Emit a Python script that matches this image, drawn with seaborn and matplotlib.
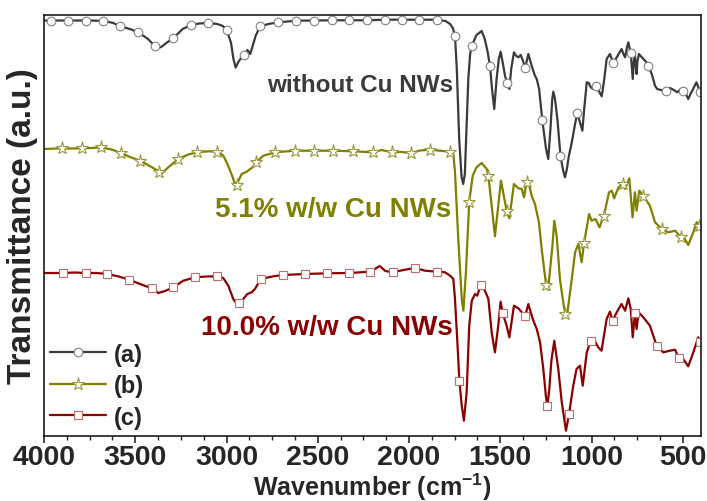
import numpy as np
import matplotlib
matplotlib.use("Agg")
import matplotlib.pyplot as plt
from matplotlib.lines import Line2D
from matplotlib.ticker import MultipleLocator
import seaborn as sns

# ---- FTIR spectra (wavenumber in cm-1, transmittance in a.u., stacked) ----
wn_a = [4000, 3963, 3867, 3770, 3675, 3620, 3584, 3530, 3483, 3430, 3392, 3360, 3330, 3291,
        3240, 3195, 3150, 3100, 3050, 3020, 2999, 2975, 2962, 2950, 2935, 2920, 2902, 2885,
        2870, 2855, 2840, 2816, 2770, 2716, 2619, 2521, 2424, 2327, 2232, 2132, 2040, 1944,
        1848, 1800, 1775, 1760, 1748, 1738, 1725, 1712, 1703, 1694, 1685, 1675, 1665, 1656,
        1630, 1602, 1585, 1570, 1556, 1545, 1533, 1520, 1508, 1498, 1485, 1474, 1462, 1450,
        1440, 1425, 1412, 1401, 1388, 1375, 1364, 1346, 1335, 1328, 1310, 1300, 1287, 1270,
        1249, 1237, 1225, 1215, 1209, 1200, 1187, 1170, 1155, 1145, 1135, 1125, 1108, 1090,
        1078, 1063, 1050, 1040, 1026, 1015, 1004, 990, 975, 960, 944, 930, 917, 899, 880,
        862, 845, 835, 825, 816, 805, 798, 790, 785, 778, 774, 768, 762, 757, 753, 748, 740,
        716, 700, 689, 670, 652, 640, 620, 592, 570, 552, 530, 510, 497, 480, 470, 455, 443,
        425, 415, 405, 400]
t_a = [415.5, 415.5, 415.5, 415.5, 415.2, 413, 409.7, 407, 403.7, 397, 389.7, 388.7, 393, 398,
       407, 411, 412.5, 413, 412, 410, 406, 393, 377, 368.5, 374, 378, 381, 386,
       382, 391, 400.3, 409.7, 412, 413.7, 415.3, 415.5, 415.7, 415.7, 415.7, 416.3, 416.3, 416.3,
       416.3, 415, 412, 408, 400.5, 367, 297, 259, 252, 262, 307, 357, 382, 390.3,
       401, 405, 397, 385, 369.7, 347, 327, 357, 377, 384.3, 372, 360.3, 353, 347,
       367, 383.7, 380, 378.7, 381, 375, 367.7, 382, 375, 370.3, 360.3, 357, 347, 316.3,
       287, 277, 307, 337, 344.3, 337, 317, 280.3, 265, 258.7, 267, 279, 293.7, 312,
       323, 313.7, 305.3, 327, 353.7, 353, 348.7, 347, 349.7, 345, 339.7, 357, 377, 382, 372.7,
       378.7, 384, 387, 382, 378.7, 389, 393.7, 387, 383, 367, 357, 375, 380.3, 369, 362, 375, 382,
       377, 374, 370.3, 362, 350.3, 347, 346, 345.3, 348, 346.3, 343.7, 347, 345.3, 341, 337, 343, 347,
       353.7, 349, 344.3, 345]
mk_a = [3963, 3867, 3770, 3675, 3584, 3483, 3392, 3291, 3195, 3100, 2999, 2902, 2816, 2716,
        2619, 2521, 2424, 2327, 2232, 2132, 2040, 1944, 1848, 1748, 1656, 1556, 1462, 1364,
        1270, 1170, 1078, 975, 880, 785, 689, 592, 497, 405]

wn_b = [4000, 3903, 3850, 3793, 3740, 3688, 3630, 3580, 3529, 3474, 3420, 3368, 3358, 3319,
        3264, 3210, 3160, 3100, 3050, 3018, 2995, 2966, 2958, 2944, 2917, 2889, 2870, 2855,
        2838, 2798, 2732, 2680, 2626, 2520, 2414, 2308, 2199, 2150, 2095, 2040, 1991, 1940,
        1885, 1830, 1777, 1757, 1748, 1730, 1711, 1702, 1688, 1670, 1651, 1630, 1602, 1574,
        1565, 1547, 1529, 1511, 1496, 1479, 1465, 1450, 1425, 1401, 1382, 1370, 1355, 1346,
        1328, 1310, 1288, 1273, 1249, 1238, 1214, 1204, 1191, 1173, 1155, 1144, 1133, 1108,
        1090, 1072, 1054, 1041, 1013, 1000, 978, 956, 932, 904, 889, 876, 852, 829, 816, 793,
        775, 762, 753, 738, 716, 680, 652, 615, 579, 542, 511, 488, 470, 442, 424, 409, 400]
t_b = [287, 287.7, 287.5, 287.7, 288, 288.7, 286.5, 283, 279, 275.3, 270, 264.3, 262, 268.7,
       277, 281.5, 283.7, 284.7, 284.3, 280.5, 272, 258.7, 254, 251.5, 262, 264.3, 267, 269,
       273.7, 280.3, 283.7, 284.5, 285.3, 285.3, 285.3, 284.7, 283.7, 286, 283.7, 284, 283, 285.5,
       286.3, 285.3, 284.3, 282, 264, 197, 137, 125.3, 164, 234.3, 260.3, 268.7, 273, 267,
       260.3, 230.3, 199.7, 230.3, 255.3, 238.7, 225.3, 217.7, 252, 247.7, 247, 238.7, 253.7, 254.3,
       240.3, 232, 213.7, 187, 151.3, 146.3, 190.3, 215.3, 200.3, 157, 133.7, 122, 122, 157,
       183.7, 192, 173.7, 192.7, 222, 215.3, 217, 208.7, 220.3, 243.7, 245.3, 237.7, 248.7, 252, 247, 257.7,
       218.7, 243.7, 225.3, 245.3, 240.3, 230.3, 213.7, 207, 203.7, 205.3, 198.7, 197, 191, 203.7, 213.7, 210.3, 212]
mk_b = [3903, 3793, 3688, 3580, 3474, 3368, 3264, 3160, 3050, 2944, 2838, 2732, 2626, 2520,
        2414, 2308, 2199, 2095, 1991, 1885, 1777, 1670, 1565, 1465, 1355, 1249, 1144, 1041,
        932, 829, 716, 615, 511, 409]

wn_c = [4000, 3898, 3830, 3770, 3710, 3653, 3590, 3533, 3474, 3410, 3374, 3337, 3291, 3237,
        3173, 3110, 3050, 3018, 2990, 2963, 2940, 2930, 2908, 2886, 2862, 2844, 2813, 2744,
        2689, 2570, 2448, 2327, 2212, 2160, 2130, 2089, 2031, 1967, 1912, 1848, 1803, 1775,
        1757, 1748, 1735, 1724, 1711, 1699, 1684, 1670, 1656, 1638, 1626, 1607, 1584, 1565,
        1547, 1529, 1511, 1498, 1487, 1465, 1450, 1425, 1401, 1382, 1364, 1346, 1322, 1300,
        1282, 1264, 1250, 1242, 1232, 1220, 1204, 1182, 1163, 1140, 1123, 1100, 1082, 1063,
        1048, 1026, 1004, 978, 963, 945, 917, 899, 884, 862, 835, 816, 798, 785, 774, 762,
        753, 742, 716, 680, 643, 607, 570, 542, 522, 497, 470, 442, 415, 405, 400]
t_c = [163, 163, 163.5, 163, 163, 162, 159.5, 156.3, 152, 147.7, 143, 145, 148.7, 155.3,
       158.7, 159.5, 159.7, 158, 150.3, 137, 131.5, 132.7, 137, 142, 143.7, 147, 157, 159.7,
       161, 162, 162.7, 163, 164.3, 170, 165, 163.7, 166, 168, 165.3, 164.3, 163.7, 160.3,
       157, 137, 94, 55.3, 30.3, 15.3, 44, 110.3, 135.3, 142, 140.3, 151.3, 145.3, 137,
       103.7, 83.7, 110.3, 134.3, 123, 110.3, 98.7, 130.3, 127.7, 123.7, 119.7, 132, 117, 107,
       93.7, 67, 40, 30.3, 45, 75, 95.3, 67, 34, 5.3, 22, 50.3, 67, 70.3,
       50.3, 83.7, 95.3, 93.7, 88.7, 85.3, 117, 124.3, 115.3, 123.7, 132, 125.3, 137.7, 127, 98.7, 122.7,
       107, 123.7, 118.7, 110.3, 90.3, 83.7, 85.3, 86.3, 77.7, 77, 69.7, 83.7, 98.7, 93.7, 97]
mk_c = [3898, 3770, 3653, 3533, 3410, 3291, 3173, 3050, 2930, 2813, 2689, 2570, 2448, 2327,
        2212, 2089, 1967, 1848, 1724, 1607, 1487, 1364, 1242, 1123, 1004, 884, 762, 643,
        522, 405]

legend_labels = ["(a)", "(b)", "(c)"]
curve_notes = ["without Cu NWs", "5.1% w/w Cu NWs", "10.0% w/w Cu NWs"]
x_ticks = [4000, 3500, 3000, 2500, 2000, 1500, 1000, 500]

# ---- styling ----
sns.set_style("white")
plt.rcParams["font.family"] = ["Liberation Sans", "DejaVu Sans"]
plt.rcParams["font.weight"] = "bold"
plt.rcParams["mathtext.fontset"] = "custom"
plt.rcParams["mathtext.rm"] = "Liberation Sans:bold"
plt.rcParams["mathtext.default"] = "rm"

line_colors = ["#3a3a3a", "#7f7f00", "#8b0000"]
edge_colors = ["#808080", "#99993a", "#c46a6a"]
markers = ["o", "*", "s"]
msizes = [6.2, 9.5, 5.6]

fig = plt.figure(figsize=(7.07, 5.02), dpi=100)
ax = fig.add_axes([44 / 707, 65 / 502, 657 / 707, 421.5 / 502])

series = [(wn_a, t_a, mk_a), (wn_b, t_b, mk_b), (wn_c, t_c, mk_c)]
handles = []
for (wn, t, mk), lc, ec, m, ms, lab in zip(series, line_colors, edge_colors, markers, msizes,
                                            legend_labels):
    wn = np.asarray(wn, float)
    idx = list(np.nonzero(np.isin(wn, mk))[0])
    sns.lineplot(x=wn, y=np.asarray(t, float), sort=False, ax=ax, color=lc, lw=1.6,
                 marker=m, markevery=idx, markersize=ms, markerfacecolor="white",
                 markeredgecolor=ec, markeredgewidth=0.8, estimator=None)
    handles.append(Line2D([], [], color=lc, lw=1.6, marker=m, markersize=ms,
                          markerfacecolor="white", markeredgecolor=ec,
                          markeredgewidth=0.8))

ax.set_xlim(4000, 400)
ax.set_ylim(0, 421.5)
ax.xaxis.set_major_locator(MultipleLocator(500))
ax.xaxis.set_minor_locator(MultipleLocator(125))
ax.set_xticks(x_ticks)
ax.set_xticklabels([str(v) for v in x_ticks])
ax.set_yticks([])
ax.tick_params(axis="x", which="major", direction="out", length=5, width=1.2,
               labelsize=20.5, pad=1, bottom=True, top=False)
ax.tick_params(axis="x", which="minor", direction="out", length=3, width=1.0,
               bottom=True, top=False)
for lbl in ax.get_xticklabels():
    lbl.set_fontweight("bold")
for sp in ax.spines.values():
    sp.set_visible(True)
    sp.set_linewidth(1.2)
    sp.set_color("#1a1a1a")

ax.set_xlabel("Wavenumber (cm$^{-1}$)", fontsize=18, fontweight="bold", labelpad=0)
ax.set_ylabel("Transmittance (a.u.)", fontsize=24, fontweight="bold", labelpad=4)

# curve annotations
ax.text(2778, 345, curve_notes[0], color=line_colors[0], fontsize=17.5,
        fontweight="bold", ha="left", va="baseline")
ax.text(3063, 219.7, curve_notes[1], color=line_colors[1], fontsize=20,
        fontweight="bold", ha="left", va="baseline")
ax.text(3140, 102, curve_notes[2], color=line_colors[2], fontsize=20,
        fontweight="bold", ha="left", va="baseline")

leg = ax.legend(handles, legend_labels, loc="lower left", bbox_to_anchor=(0.005, 0.012),
                frameon=False, handlelength=2.4, handletextpad=0.3,
                labelspacing=0.36, borderpad=0.1, borderaxespad=0.0, numpoints=1,
                prop={"weight": "bold", "size": 17})

fig.savefig("out.png", dpi=100)
